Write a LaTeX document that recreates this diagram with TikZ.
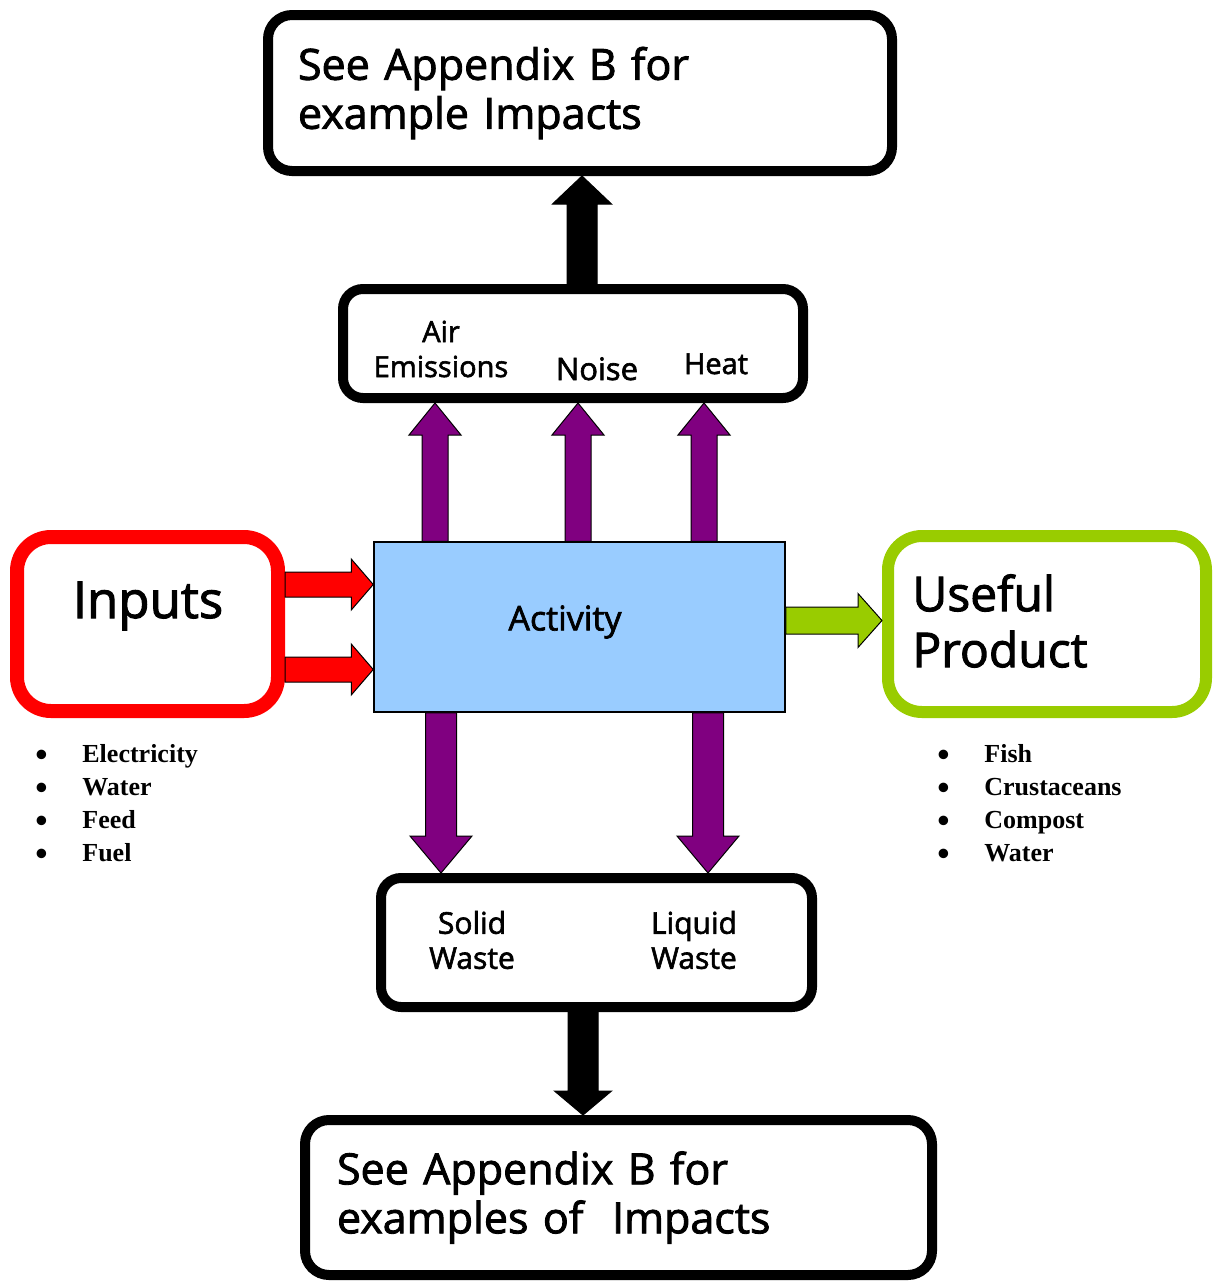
\documentclass[tikz,border=0pt]{standalone}
\usepackage{fontspec}
\setmainfont{Open Sans}[FakeBold=2]
\newfontfamily\listfont{Liberation Serif}
\usetikzlibrary{calc}
\definecolor{flowpurple}{HTML}{800080}
\definecolor{inred}{HTML}{FF0000}
\definecolor{outgreen}{HTML}{99CC00}
\definecolor{actblue}{HTML}{99CCFF}
\newcommand{\blockarrow}[6]{%
  \filldraw[#1] ($(#2)!#4!90:(#3)$) -- ($(#3)!#6!(#2)!#4!-90:(#2)$)
    -- ($(#3)!#6!(#2)!#5!-90:(#2)$) -- (#3)
    -- ($(#3)!#6!(#2)!#5!90:(#2)$) -- ($(#3)!#6!(#2)!#4!90:(#2)$)
    -- ($(#2)!#4!-90:(#3)$) -- cycle;}
\tikzset{
  blackbox/.style={draw, line width=5pt, rounded corners=12pt, fill=white},
  bigtext/.style={font=\fontsize{21.5}{24.5}\selectfont, align=left},
  smalltext/.style={font=\fontsize{14.5}{17.5}\selectfont, inner sep=0pt},
  listtext/.style={font=\listfont\bfseries\fontsize{13}{16.5}\selectfont, align=left, inner sep=0pt},
  purplearrow/.style={fill=flowpurple, draw=black, line width=0.5pt},
  redarrow/.style={fill=inred, draw=black, line width=0.5pt},
  greenarrow/.style={fill=outgreen, draw=black, line width=0.5pt},
  blackarrow/.style={fill=black, draw=black, line width=0.5pt}
}
\newcommand{\pt}{\makebox[23.5pt][l]{\raisebox{-1.8pt}{\fontsize{17.5}{16.5}\selectfont\textbullet}}}
\begin{document}
\begin{tikzpicture}[x=0.5pt, y=-0.5pt]
\useasboundingbox (0,0) rectangle (1213,1281);
\node[blackbox, bigtext, minimum width=312pt, minimum height=78pt, inner xsep=15pt, text width=282pt] (impt) at (580,93)
  {See Appendix B for\\example Impacts};
\node[blackbox, rounded corners=10pt, minimum width=230pt, minimum height=54.5pt] (emis) at (573,343.5) {};
\node[smalltext, align=center] (air) at (441,349) {Air\\Emissions};
\node[smalltext, anchor=base, font=\fontsize{15.5}{18}\selectfont] (noise) at (597,380) {Noise};
\node[smalltext, anchor=base] (heat) at (716,374) {Heat};
\node[draw, fill=actblue, line width=0.75pt, minimum width=205.5pt, minimum height=85pt] (act) at (579.5,627) {};
\node[font=\fontsize{17}{20}\selectfont, inner sep=0pt] (actlbl) at (565,622) {Activity};
\node[draw=inred, line width=7pt, rounded corners=17pt, minimum width=130.5pt, minimum height=87pt] (inp) at (147.5,624) {};
\node[anchor=base, font=\fontsize{25.5}{30}\selectfont, inner sep=0pt] (inplbl) at (148,618) {Inputs};
\node[draw=outgreen, line width=6pt, rounded corners=17pt, minimum width=159pt, minimum height=88pt] (prod) at (1047,624) {};
\node[anchor=west, align=left, font=\fontsize{24}{28}\selectfont, inner sep=0pt] (prodlbl) at (912,621) {Useful\\Product};
\node[listtext, anchor=north west] (inlist) at (35,744)
  {\pt Electricity\\\pt Water\\\pt Feed\\\pt Fuel};
\node[listtext, anchor=north west] (outlist) at (937,744)
  {\pt Fish\\\pt Crustaceans\\\pt Compost\\\pt Water};
\node[blackbox, rounded corners=10pt, minimum width=215.5pt, minimum height=64.5pt] (waste) at (596.5,942.5) {};
\node[smalltext, align=center, font=\fontsize{15}{17.5}\selectfont] (solid) at (472,940) {Solid\\Waste};
\node[smalltext, align=center, font=\fontsize{15}{17.5}\selectfont] (liquid) at (694,940) {Liquid\\Waste};
\node[blackbox, bigtext, minimum width=313.5pt, minimum height=77.5pt, inner xsep=16pt, text width=281.5pt] (impb) at (618.5,1197.5)
  {See Appendix B for\\examples of~ Impacts};
\blockarrow{blackarrow}{emis.north -| 582,0}{impt.south -| 582,0}{7.5pt}{14.75pt}{14pt}
\blockarrow{purplearrow}{act.north -| 435,0}{emis.south -| 435,0}{6.5pt}{13pt}{16pt}
\blockarrow{purplearrow}{act.north -| 578,0}{emis.south -| 578,0}{6.5pt}{13pt}{16pt}
\blockarrow{purplearrow}{act.north -| 704,0}{emis.south -| 704,0}{6.5pt}{13pt}{16pt}
\blockarrow{redarrow}{inp.east |- 0,584.5}{act.west |- 0,584.5}{6.25pt}{12.75pt}{11pt}
\blockarrow{redarrow}{inp.east |- 0,669.5}{act.west |- 0,669.5}{6.25pt}{12.75pt}{11pt}
\blockarrow{greenarrow}{act.east |- 0,620.5}{prod.west |- 0,620.5}{6.75pt}{13.5pt}{12pt}
\blockarrow{purplearrow}{act.south -| 441,0}{waste.north -| 441,0}{7.75pt}{15.5pt}{18.5pt}
\blockarrow{purplearrow}{act.south -| 708,0}{waste.north -| 708,0}{7.75pt}{15.5pt}{18.5pt}
\blockarrow{blackarrow}{waste.south -| 583,0}{impb.north -| 583,0}{7.5pt}{14.25pt}{12pt}
\end{tikzpicture}
\end{document}
